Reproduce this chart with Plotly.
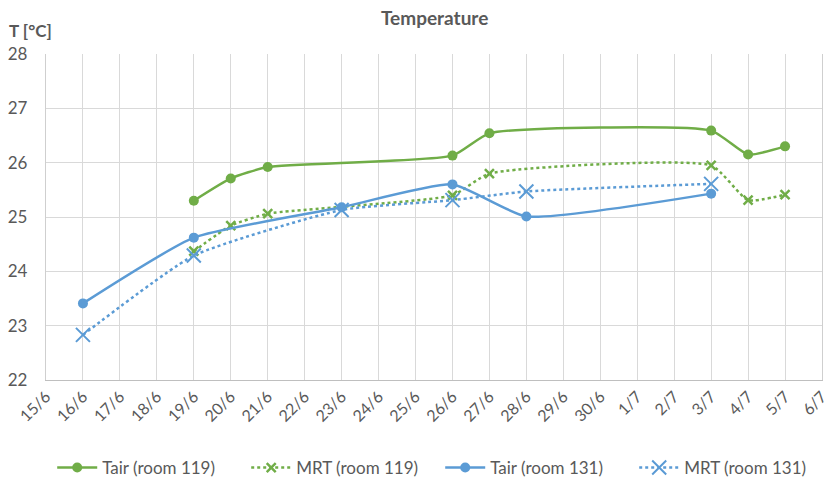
import plotly.graph_objects as go

# ---- data ----
tair119_dates = ["2021-06-19", "2021-06-20", "2021-06-21", "2021-06-26", "2021-06-27", "2021-07-03", "2021-07-04", "2021-07-05"]
tair119_vals = [25.30, 25.71, 25.92, 26.13, 26.54, 26.59, 26.15, 26.30]

mrt119_dates = ["2021-06-19", "2021-06-20", "2021-06-21", "2021-06-26", "2021-06-27", "2021-07-03", "2021-07-04", "2021-07-05"]
mrt119_vals = [24.37, 24.84, 25.06, 25.40, 25.80, 25.95, 25.31, 25.41]

tair131_dates = ["2021-06-16", "2021-06-19", "2021-06-23", "2021-06-26", "2021-06-28", "2021-07-03"]
tair131_vals = [23.41, 24.62, 25.18, 25.60, 25.01, 25.43]

mrt131_dates = ["2021-06-16", "2021-06-19", "2021-06-23", "2021-06-26", "2021-06-28", "2021-07-03"]
mrt131_vals = [22.83, 24.29, 25.13, 25.31, 25.47, 25.61]

tick_dates = ["2021-06-15", "2021-06-16", "2021-06-17", "2021-06-18", "2021-06-19", "2021-06-20",
              "2021-06-21", "2021-06-22", "2021-06-23", "2021-06-24", "2021-06-25", "2021-06-26",
              "2021-06-27", "2021-06-28", "2021-06-29", "2021-06-30", "2021-07-01", "2021-07-02",
              "2021-07-03", "2021-07-04", "2021-07-05", "2021-07-06"]
tick_labels = ["15/6", "16/6", "17/6", "18/6", "19/6", "20/6", "21/6", "22/6", "23/6", "24/6", "25/6",
               "26/6", "27/6", "28/6", "29/6", "30/6", "1/7", "2/7", "3/7", "4/7", "5/7", "6/7"]
y_ticks = [22, 23, 24, 25, 26, 27, 28]

GREEN = "#70AD47"
BLUE = "#5B9BD5"
TXT = "#595959"
FONT = "Lato, sans-serif"
SM = 0.5

fig = go.Figure()
fig.add_trace(go.Scatter(
    x=tair119_dates, y=tair119_vals, name="Tair (room 119)", mode="lines+markers",
    line=dict(color=GREEN, width=2.5, shape="spline", smoothing=SM),
    marker=dict(symbol="circle", size=10, color=GREEN)))
fig.add_trace(go.Scatter(
    x=mrt119_dates, y=mrt119_vals, name="MRT (room 119)", mode="lines+markers",
    line=dict(color=GREEN, width=2.5, dash="dot", shape="spline", smoothing=SM),
    marker=dict(symbol="x-thin", size=9, color=GREEN, line=dict(color=GREEN, width=2.5))))
fig.add_trace(go.Scatter(
    x=tair131_dates, y=tair131_vals, name="Tair (room 131)", mode="lines+markers",
    line=dict(color=BLUE, width=2.5, shape="spline", smoothing=SM),
    marker=dict(symbol="circle", size=10, color=BLUE)))
fig.add_trace(go.Scatter(
    x=mrt131_dates, y=mrt131_vals, name="MRT (room 131)", mode="lines+markers",
    line=dict(color=BLUE, width=2.5, dash="dot", shape="spline", smoothing=SM),
    marker=dict(symbol="x-thin", size=14, color=BLUE, line=dict(color=BLUE, width=2))))

fig.update_layout(
    width=826, height=483,
    margin=dict(l=46, r=4, t=54, b=103, autoexpand=False),
    paper_bgcolor="white", plot_bgcolor="white",
    font=dict(family=FONT, color=TXT, size=15),
    showlegend=True,
    legend=dict(orientation="h", x=0.008, xanchor="left", y=-0.27, yanchor="middle",
                font=dict(size=17, color=TXT), entrywidth=139, itemwidth=40,
                bgcolor="rgba(0,0,0,0)"),
    annotations=[
        dict(text="<b>Temperature</b>", xref="paper", yref="paper", x=0.5, y=1.0,
             yshift=37, xanchor="center", yanchor="middle", showarrow=False,
             font=dict(size=19, color=TXT, family=FONT)),
        dict(text="<b>T [°C]</b>", xref="paper", yref="paper", x=0, xshift=-39, y=1.0,
             yshift=24, xanchor="left", yanchor="middle", showarrow=False,
             font=dict(size=17, color=TXT, family=FONT)),
    ],
)
fig.update_xaxes(
    type="date", range=["2021-06-15", "2021-07-06"], automargin=False,
    tickvals=tick_dates, ticktext=tick_labels, tickangle=-45, ticklabeloverflow="allow",
    tickfont=dict(size=16, color=TXT),
    showgrid=True, gridcolor="#D9D9D9", gridwidth=1.3,
    showline=True, linecolor="#BFBFBF", linewidth=1.3, ticks="", zeroline=False,
)
fig.update_yaxes(
    range=[22, 28], tickvals=y_ticks, tickfont=dict(size=17, color=TXT), automargin=False,
    showgrid=True, gridcolor="#D9D9D9", gridwidth=1.3,
    showline=True, mirror=True, linecolor="#CFCFCF", linewidth=1.3, ticks="", zeroline=False,
    ticklabelstandoff=14,
)

fig.write_html("out.html", config={"displayModeBar": False},
               post_script="document.body.style.margin='0';document.body.style.padding='0';")
